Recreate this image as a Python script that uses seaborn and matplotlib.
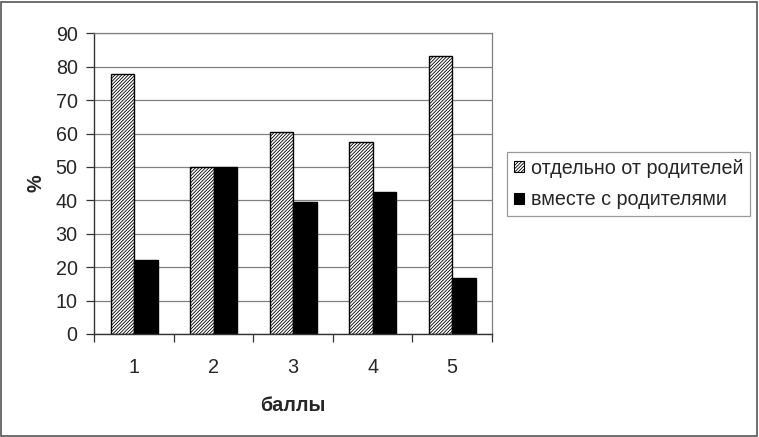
import matplotlib
matplotlib.use("Agg")
import matplotlib.pyplot as plt
from matplotlib.patches import Patch, Rectangle
import seaborn as sns
import pandas as pd

categories = ["1", "2", "3", "4", "5"]
separately = [77.8, 50.0, 60.6, 57.4, 83.3]
together = [22.2, 50.0, 39.4, 42.6, 16.7]
series_names = ["отдельно от родителей", "вместе с родителями"]
y_ticks = [0, 10, 20, 30, 40, 50, 60, 70, 80, 90]

df = pd.DataFrame({
    "cat": categories * 2,
    "val": separately + together,
    "series": [series_names[0]] * len(categories) + [series_names[1]] * len(categories),
})

sns.set_theme(style="white")
plt.rcParams["font.family"] = ["Liberation Sans", "DejaVu Sans"]
plt.rcParams["hatch.linewidth"] = 0.6

FS = 14.2
HATCH = "/" * 10

fig = plt.figure(figsize=(7.59, 4.37), dpi=100)
ax = fig.add_axes([0.1243, 0.2357, 0.648 - 0.1243, 0.9238 - 0.2357])

sns.barplot(data=df, x="cat", y="val", hue="series", order=categories,
            hue_order=series_names, palette=["white", "black"], width=0.59,
            edgecolor="black", linewidth=1.0, saturation=1, ax=ax, legend=False)

n = len(categories)
for i, p in enumerate(ax.patches[:2 * n]):
    if i < n:
        p.set_facecolor("white")
        p.set_hatch(HATCH)
        p.set_edgecolor("black")
    else:
        p.set_facecolor("black")

ax.set_ylim(0, 90)
ax.set_xlim(-0.5, n - 0.5)
ax.set_yticks(y_ticks)
ax.set_yticklabels([str(t) for t in y_ticks], fontsize=FS)
ax.yaxis.grid(True, color="#808080", linewidth=0.9)
ax.set_axisbelow(True)
ax.tick_params(axis="y", left=True, length=6, width=0.9, color="#333333", pad=6)
ax.set_xticks(range(n))
ax.set_xticklabels(categories, fontsize=FS)
ax.set_xticks([i - 0.5 for i in range(n + 1)], minor=True)
ax.tick_params(axis="x", which="major", length=0, pad=17)
ax.tick_params(axis="x", which="minor", bottom=True, length=6, width=0.9, color="#333333")

for side in ["top", "right"]:
    ax.spines[side].set_visible(True)
    ax.spines[side].set_color("#808080")
    ax.spines[side].set_linewidth(0.9)
for side in ["left", "bottom"]:
    ax.spines[side].set_color("#333333")
    ax.spines[side].set_linewidth(1.0)

ax.set_xlabel("баллы", fontsize=FS, fontweight="bold", labelpad=14)
ax.set_ylabel("%", fontsize=FS, fontweight="bold", labelpad=7)

handles = [
    Patch(facecolor="white", edgecolor="black", hatch=HATCH, linewidth=0.8),
    Patch(facecolor="black", edgecolor="black", linewidth=0.8),
]
leg = fig.legend(handles, series_names, loc="center left",
                 bbox_to_anchor=(507 / 759, 1 - 184 / 437), fontsize=FS,
                 frameon=True, fancybox=False, edgecolor="#808080",
                 handlelength=0.5, handleheight=0.5, handletextpad=0.35,
                 labelspacing=0.65, borderpad=0.35, borderaxespad=0)
leg.get_frame().set_linewidth(0.9)

fig.patches.append(Rectangle((1 / 759, 1 / 437), 756 / 759, 434 / 437,
                             transform=fig.transFigure, fill=False,
                             edgecolor="#555555", linewidth=1.2))

fig.savefig("out.png", dpi=100, facecolor="white")
